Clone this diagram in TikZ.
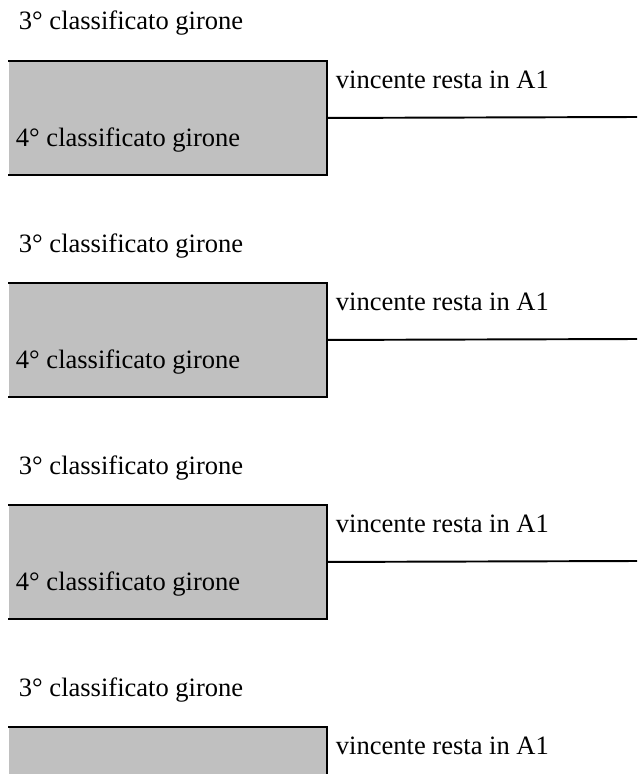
\documentclass[tikz,border=0pt]{standalone}
\usepackage{fontspec}
\setmainfont{Liberation Serif}
\definecolor{boxgray}{RGB}{192,192,192}
\begin{document}
\begin{tikzpicture}[x=0.02cm,y=-0.02cm,line width=1.1pt,
		lbl/.style={anchor=base west,inner sep=0pt,font=\fontsize{15.1}{18}\selectfont},
		slot/.style={fill=boxgray,anchor=north west,inner sep=0pt,minimum width=6.34cm,minimum height=2.24cm}]
		\useasboundingbox (0,0) rectangle (637,774);
		\clip (0,0) rectangle (637,774);
		% first pair
		\node[lbl] (t1) at (18,30) {3° classificato girone};
		\node[slot] (s1) at (8,61) {};
		\draw (s1.north west) -- (s1.north east) -- (s1.south east) -- (s1.south west);
		\node[lbl] (q1) at (15,146) {4° classificato girone};
		\node[lbl] (w1) at (335,88) {vincente resta in A1};
		\coordinate (e1) at (637,117);
		\draw (s1.east) -- (e1);
		% second pair
		\node[lbl] (t2) at (18,252) {3° classificato girone};
		\node[slot] (s2) at (8,283) {};
		\draw (s2.north west) -- (s2.north east) -- (s2.south east) -- (s2.south west);
		\node[lbl] (q2) at (15,368) {4° classificato girone};
		\node[lbl] (w2) at (335,310) {vincente resta in A1};
		\coordinate (e2) at (637,339);
		\draw (s2.east) -- (e2);
		% third pair
		\node[lbl] (t3) at (18,474) {3° classificato girone};
		\node[slot] (s3) at (8,505) {};
		\draw (s3.north west) -- (s3.north east) -- (s3.south east) -- (s3.south west);
		\node[lbl] (q3) at (15,590) {4° classificato girone};
		\node[lbl] (w3) at (335,532) {vincente resta in A1};
		\coordinate (e3) at (637,561);
		\draw (s3.east) -- (e3);
		% fourth pair (cut by the page)
		\node[lbl] (t4) at (18,696) {3° classificato girone};
		\node[slot] (s4) at (8,727) {};
		\draw (s4.north west) -- (s4.north east) -- (s4.south east);
		\node[lbl] (w4) at (335,754) {vincente resta in A1};
	\end{tikzpicture}
\end{document}
